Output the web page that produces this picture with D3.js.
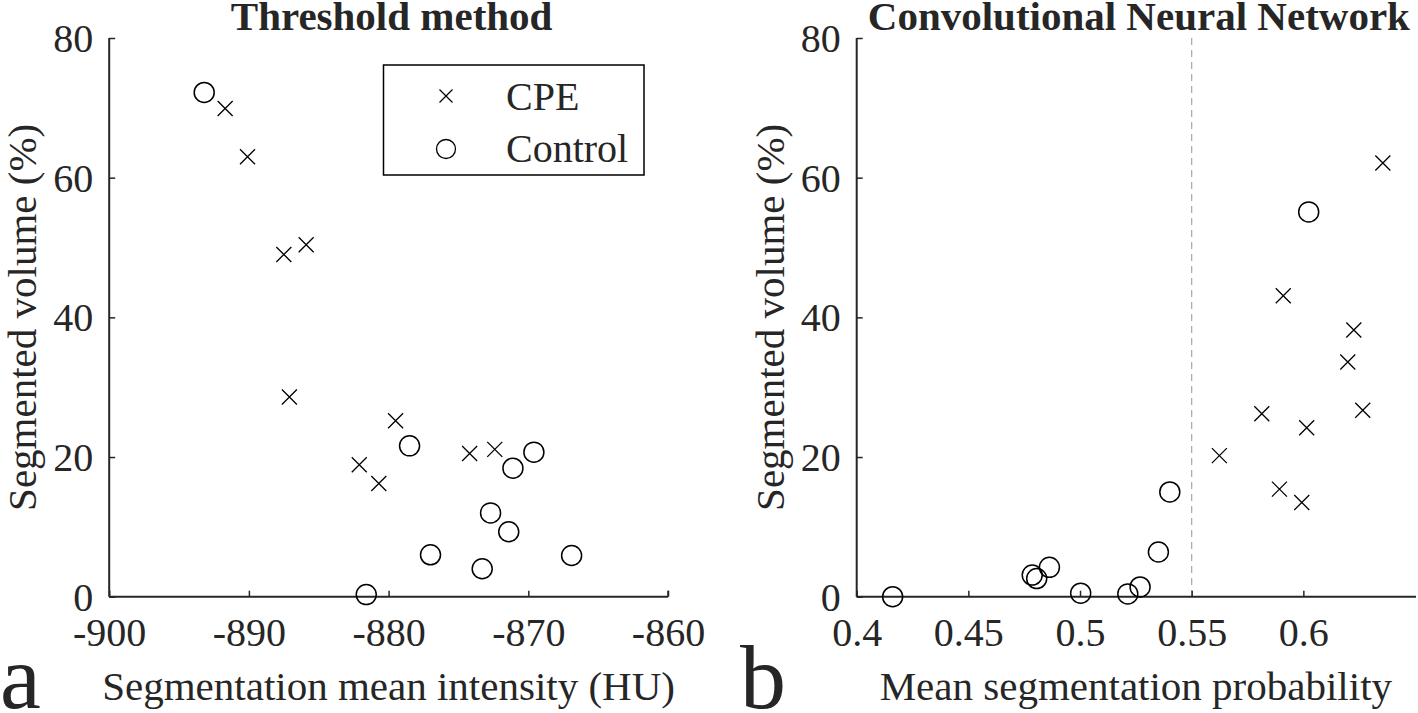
<!DOCTYPE html>
<html>
<head>
<meta charset="utf-8">
<script src="https://cdn.jsdelivr.net/npm/d3@7/dist/d3.min.js"></script>
<style>
  html, body { margin: 0; padding: 0; background: #fff; }
  svg { display: block; }
  text { font-family: "Liberation Serif", "Times New Roman", serif; fill: #262626; }
</style>
</head>
<body>
<svg id="chart" width="1418" height="713"></svg>
<script>
// ---- Data ----
const seriesNames = ["CPE", "Control"];
const panelTitles = ["Threshold method", "Convolutional Neural Network"];
const panelLetters = ["a", "b"];
const xAxisTitles = ["Segmentation mean intensity (HU)", "Mean segmentation probability"];
const yAxisTitle = "Segmented volume (%)";

const yTicks = [0, 20, 40, 60, 80];
const xTicksA = [-900, -890, -880, -870, -860];
const xTicksB = [0.4, 0.45, 0.5, 0.55, 0.6];
const cnnThreshold = 0.55;

// Panel a: Threshold method  [mean intensity (HU), segmented volume (%)]
const threshCPE = [
  [-891.7, 69.9], [-890.1, 63.0], [-887.5, 49.0], [-885.9, 50.4], [-887.1, 28.6],
  [-879.5, 25.2], [-882.1, 18.9], [-880.7, 16.2], [-874.2, 20.5], [-872.4, 21.1]
];
const threshControl = [
  [-893.2, 72.2], [-878.5, 21.6], [-877.0, 6.0], [-881.6, 0.3], [-869.6, 20.7],
  [-871.1, 18.4], [-872.7, 12.0], [-871.4, 9.3], [-873.3, 4.0], [-866.9, 5.9]
];

// Panel b: CNN  [mean segmentation probability, segmented volume (%)]
const cnnCPE = [
  [0.6356, 62.1], [0.5910, 43.1], [0.6226, 38.2], [0.6199, 33.6], [0.6266, 26.7],
  [0.5814, 26.2], [0.6015, 24.2], [0.5624, 20.2], [0.5893, 15.4], [0.5993, 13.5]
];
const cnnControl = [
  [0.4161, 0.0], [0.4786, 3.1], [0.4806, 2.6], [0.4863, 4.2], [0.5003, 0.5],
  [0.5214, 0.4], [0.5269, 1.4], [0.5351, 6.4], [0.5402, 15.0], [0.6024, 55.1]
];

// ---- Layout ----
const svg = d3.select("#chart");
const ink = "#262626";
const yRange = [596.7, 38];

const panels = [
  { xDomain: [-900, -860], xRange: [109.2, 668], xTicks: xTicksA, xFmt: d => String(d),
    cpe: threshCPE, ctrl: threshControl, lineEnd: 668 },
  { xDomain: [0.4, 0.65], xRange: [856.7, 1415], xTicks: xTicksB, xFmt: d => String(d),
    cpe: cnnCPE, ctrl: cnnControl, lineEnd: 1416 }
];

const y = d3.scaleLinear().domain([0, 80]).range(yRange);

panels.forEach((p, i) => {
  const x = d3.scaleLinear().domain(p.xDomain).range(p.xRange);
  const g = svg.append("g");

  // dashed threshold line (panel b)
  if (i === 1) {
    g.append("line")
      .attr("x1", x(cnnThreshold)).attr("x2", x(cnnThreshold))
      .attr("y1", y(80)).attr("y2", y(0))
      .attr("stroke", "#a6a6a6").attr("stroke-width", 1.2)
      .attr("stroke-dasharray", "7,5");
  }

  // Y axis (ticks inward)
  const yAxis = d3.axisLeft(y).tickValues(yTicks).tickSize(-6).tickPadding(16).tickFormat(d3.format("d"));
  const gy = g.append("g").attr("transform", `translate(${p.xRange[0]},0)`).call(yAxis);
  gy.select(".domain").remove();
  gy.selectAll(".tick line").attr("stroke", ink).attr("stroke-width", 1.5);
  gy.selectAll(".tick text").attr("font-size", 40).attr("fill", ink)
    .attr("font-family", "Liberation Serif, serif").attr("dy", "0.34em").attr("x", -16);
  g.append("line").attr("x1", p.xRange[0]).attr("x2", p.xRange[0])
    .attr("y1", yRange[0]).attr("y2", yRange[1]).attr("stroke", ink).attr("stroke-width", 2);

  // X axis (ticks inward)
  const xAxis = d3.axisBottom(x).tickValues(p.xTicks).tickSize(-6).tickPadding(20).tickFormat(p.xFmt);
  const gx = g.append("g").attr("transform", `translate(0,${yRange[0]})`).call(xAxis);
  gx.select(".domain").remove();
  gx.selectAll(".tick line").attr("stroke", ink).attr("stroke-width", 1.5);
  gx.selectAll(".tick text").attr("font-size", 40).attr("fill", ink)
    .attr("font-family", "Liberation Serif, serif").attr("y", 49).attr("dy", 0);
  g.append("line").attr("x1", p.xRange[0]).attr("x2", p.lineEnd)
    .attr("y1", yRange[0]).attr("y2", yRange[0]).attr("stroke", ink).attr("stroke-width", 2);
  if (i === 0) {
    g.append("line").attr("x1", p.xRange[1]).attr("x2", p.xRange[1])
      .attr("y1", yRange[0]).attr("y2", yRange[0] - 6).attr("stroke", ink).attr("stroke-width", 1.5);
  }

  const cx = (p.xRange[0] + p.xRange[1]) / 2;

  // Title
  g.append("text").attr("x", cx + 3).attr("y", 30).attr("text-anchor", "middle")
    .attr("font-size", 41).attr("font-weight", "bold").attr("fill", "#000").text(panelTitles[i]);

  // X axis title
  g.append("text").attr("x", cx).attr("y", 700).attr("text-anchor", "middle")
    .attr("font-size", 41).text(xAxisTitles[i]);

  // Y axis title
  g.append("text").attr("transform", `translate(${p.xRange[0] - 73},${(yRange[0] + yRange[1]) / 2}) rotate(-90)`)
    .attr("text-anchor", "middle").attr("font-size", 41).text(yAxisTitle);

  // panel letter
  g.append("text").attr("x", i === 0 ? 0 : 740).attr("y", 708)
    .attr("font-size", 92).attr("fill", "#000").text(panelLetters[i]);

  // markers
  const xs = 7.5;
  g.append("g").selectAll("path").data(p.cpe).join("path")
    .attr("d", d => {
      const px = x(d[0]), py = y(d[1]);
      return `M${px - xs},${py - xs}L${px + xs},${py + xs}M${px - xs},${py + xs}L${px + xs},${py - xs}`;
    })
    .attr("stroke", "#000").attr("stroke-width", 1.3).attr("fill", "none");
  g.append("g").selectAll("circle").data(p.ctrl).join("circle")
    .attr("cx", d => x(d[0])).attr("cy", d => y(d[1])).attr("r", 10)
    .attr("stroke", "#000").attr("stroke-width", 1.5).attr("fill", "none");

  // Legend (panel a)
  if (i === 0) {
    const lg = g.append("g");
    lg.append("rect").attr("x", 383.5).attr("y", 65).attr("width", 260.5).attr("height", 110)
      .attr("fill", "#fff").attr("stroke", "#000").attr("stroke-width", 1.5);
    const ls = 6.5, lx = 446;
    lg.append("path")
      .attr("d", `M${lx - ls},${96 - ls}L${lx + ls},${96 + ls}M${lx - ls},${96 + ls}L${lx + ls},${96 - ls}`)
      .attr("stroke", "#000").attr("stroke-width", 1.2);
    lg.append("circle").attr("cx", lx).attr("cy", 149).attr("r", 9.5)
      .attr("stroke", "#000").attr("stroke-width", 1.3).attr("fill", "none");
    lg.append("text").attr("x", 506).attr("y", 110).attr("font-size", 40).text(seriesNames[0]);
    lg.append("text").attr("x", 506).attr("y", 162).attr("font-size", 40).text(seriesNames[1]);
  }
});
</script>
</body>
</html>
